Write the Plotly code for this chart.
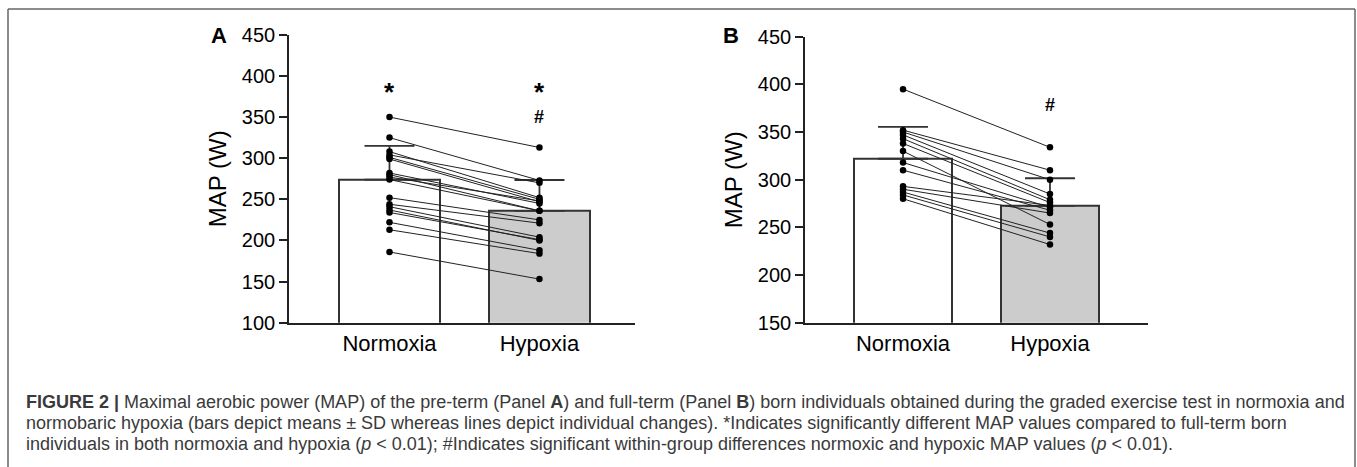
import plotly.graph_objects as go

W, H = 1357, 467

# ---- data ----
categories = ["Normoxia", "Hypoxia"]

A_norm = [350, 325, 308, 304, 301, 299, 282, 280, 277, 274, 252, 244, 241, 237, 234, 222, 213, 186]
A_hyp = [313, 273, 252, 270, 250, 247, 245, 236, 248, 236, 225, 221, 204, 200, 201, 188, 184, 153]
A_mean = [274, 236]
A_sd = [41, 37.5]

B_norm = [395, 352, 350, 347, 343, 338, 330, 318, 310, 293, 290, 287, 284, 280]
B_hyp = [334, 310, 300, 285, 279, 276, 253, 271, 268, 273, 265, 244, 240, 232]
B_mean = [322, 272.5]
B_sd = [33.5, 29]

A_ticks = [100, 150, 200, 250, 300, 350, 400, 450]
B_ticks = [150, 200, 250, 300, 350, 400, 450]

caption_lines = [
    "<b>FIGURE 2 |</b> Maximal aerobic power (MAP) of the pre-term (Panel <b>A</b>) and full-term (Panel <b>B</b>) born individuals obtained during the graded exercise test in normoxia and",
    "normobaric hypoxia (bars depict means ± SD whereas lines depict individual changes). *Indicates significantly different MAP values compared to full-term born",
    "individuals in both normoxia and hypoxia (<i>p</i> &lt; 0.01); #Indicates significant within-group differences normoxic and hypoxic MAP values (<i>p</i> &lt; 0.01).",
]

FONT = "Liberation Sans, Arial, sans-serif"
AX = "#222222"

fig = go.Figure()


def add_panel(fig, xa, ya, norm, hyp, mean, sd):
    xr = "x" if xa == 1 else f"x{xa}"
    yr = "y" if ya == 1 else f"y{ya}"
    fig.add_trace(go.Bar(
        x=[0, 1], y=mean, width=0.67, xaxis=xr, yaxis=yr,
        marker=dict(color=["white", "#cccccc"], line=dict(color="#333333", width=2)),
        error_y=dict(type="data", array=sd, arrayminus=[0, 0], symmetric=False,
                     color="#333333", thickness=1.8, width=25),
        showlegend=False, hoverinfo="skip",
    ))
    lx, ly = [], []
    for a, b in zip(norm, hyp):
        lx += [0, 1, None]
        ly += [a, b, None]
    fig.add_trace(go.Scatter(x=lx, y=ly, mode="lines", xaxis=xr, yaxis=yr,
                             line=dict(color="#222222", width=1), showlegend=False,
                             hoverinfo="skip"))
    fig.add_trace(go.Scatter(x=[0] * len(norm) + [1] * len(hyp), y=norm + hyp,
                             mode="markers", xaxis=xr, yaxis=yr,
                             marker=dict(color="black", size=6.5), showlegend=False))


add_panel(fig, 1, 1, A_norm, A_hyp, A_mean, A_sd)
add_panel(fig, 2, 2, B_norm, B_hyp, B_mean, B_sd)


def px_x(x):
    return x / W


def px_y(y):
    return 1 - y / H


xcommon = dict(tickvals=[0, 1], ticktext=categories, showline=True, linecolor=AX, linewidth=1.6,
               ticks="", showgrid=False, zeroline=False, automargin=False,
               tickfont=dict(family=FONT, size=22, color="black"))
ycommon = dict(showline=True, linecolor=AX, linewidth=1.6, ticks="outside", ticklen=8,
               tickwidth=1.6, tickcolor=AX, showgrid=False, zeroline=False, automargin=False,
               tickfont=dict(family=FONT, size=20, color="black"),
               title=dict(text="MAP (W)", font=dict(family=FONT, size=24, color="black"), standoff=8))

fig.update_layout(
    width=W, height=H, autosize=False, margin=dict(l=0, r=0, t=0, b=0, pad=0),
    paper_bgcolor="white", plot_bgcolor="white", bargap=0, showlegend=False,
    xaxis=dict(domain=[px_x(289), px_x(635)], range=[-0.67, 1.637], anchor="y", **xcommon),
    yaxis=dict(domain=[px_y(322.7), px_y(34.8)], range=[100, 450], tickvals=A_ticks, anchor="x", **ycommon),
    xaxis2=dict(domain=[px_x(805), px_x(1148)], range=[-0.667, 1.667], anchor="y2", **xcommon),
    yaxis2=dict(domain=[px_y(322.7), px_y(36.7)], range=[150, 450], tickvals=B_ticks, anchor="x2", **ycommon),
)

ann = []
star = dict(family=FONT, size=26, color="black")
hashf = dict(family=FONT, size=18, color="black")
ann.append(dict(x=0, y=380, xref="x", yref="y", text="<b>*</b>", showarrow=False, font=star))
ann.append(dict(x=1, y=380, xref="x", yref="y", text="<b>*</b>", showarrow=False, font=star))
ann.append(dict(x=1, y=350, xref="x", yref="y", text="<b>#</b>", showarrow=False, font=hashf))
ann.append(dict(x=1, y=378, xref="x2", yref="y2", text="<b>#</b>", showarrow=False, font=hashf))
ann.append(dict(x=px_x(219), y=px_y(35), xref="paper", yref="paper", text="<b>A</b>",
                xanchor="center", yanchor="middle",
                showarrow=False, font=dict(family=FONT, size=22, color="black")))
ann.append(dict(x=px_x(731), y=px_y(35), xref="paper", yref="paper", text="<b>B</b>",
                xanchor="center", yanchor="middle",
                showarrow=False, font=dict(family=FONT, size=22, color="black")))

for line, yy in zip(caption_lines, [402, 423, 444]):
    ann.append(dict(x=px_x(24), y=px_y(yy), xref="paper", yref="paper", text=line,
                    showarrow=False, xanchor="left", yanchor="middle", align="left",
                    font=dict(family=FONT, size=18, color="#3a3a3a")))
fig.update_layout(annotations=ann)

border = dict(color="#666666", width=1.5)
fig.update_layout(shapes=[
    dict(type="line", xref="paper", yref="paper", x0=px_x(8), x1=px_x(1355), y0=px_y(9), y1=px_y(9), line=border),
    dict(type="line", xref="paper", yref="paper", x0=px_x(8), x1=px_x(8), y0=px_y(9), y1=0, line=border),
    dict(type="line", xref="paper", yref="paper", x0=px_x(1355), x1=px_x(1355), y0=px_y(9), y1=0, line=border),
])

fig.write_html("out.html", config={"displayModeBar": False, "responsive": False},
               default_width="1357px", default_height="467px",
               post_script="document.body.style.margin='0';document.body.style.overflow='hidden';")
